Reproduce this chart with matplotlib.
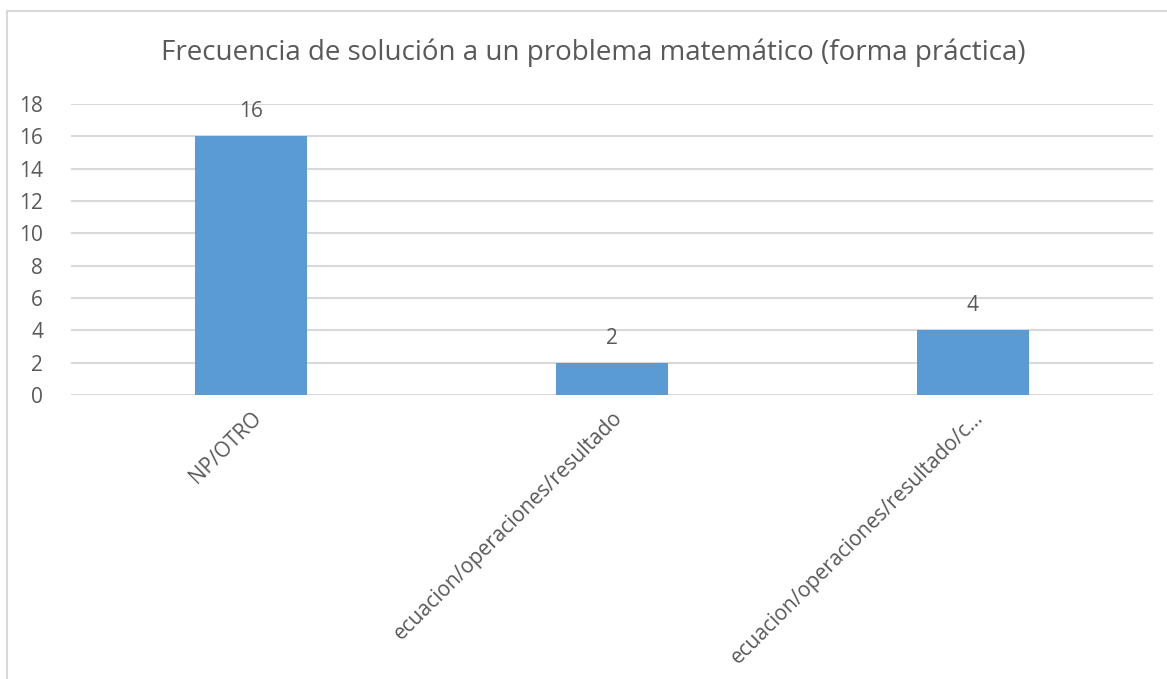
import matplotlib.pyplot as plt
from matplotlib.lines import Line2D

categories = ['NP/OTRO', 'ecuacion/operaciones/resultado', 'ecuacion/operaciones/resultado/c...']
counts = [16, 2, 4]
yticks = [0, 2, 4, 6, 8, 10, 12, 14, 16, 18]
title = 'Frecuencia de solución a un problema matemático (forma práctica)'

text_color = '#595959'
grid_color = '#d9d9d9'
bar_color = '#5b9bd5'

plt.rcParams['font.family'] = ['Open Sans', 'DejaVu Sans']

fig = plt.figure(figsize=(11.67, 6.79), dpi=100)
ax = fig.add_axes([71 / 1167, 1 - 395 / 679, (1153 - 71) / 1167, (395 - 104) / 679])

# chart frame (left and top edges only are visible)
fig.add_artist(Line2D([7 / 1167, 7 / 1167], [0, 1 - 11 / 679], color=grid_color, lw=1.5,
                      transform=fig.transFigure))
fig.add_artist(Line2D([7 / 1167, 1], [1 - 11 / 679, 1 - 11 / 679], color=grid_color, lw=1.5,
                      transform=fig.transFigure))

x = range(len(categories))
bars = ax.bar(x, counts, width=0.31, color=bar_color, zorder=3)
for b, v in zip(bars, counts):
    ax.annotate(str(v), (b.get_x() + b.get_width() / 2, v), xytext=(0, 10),
                textcoords='offset points', ha='center', va='bottom',
                fontsize=15, color=text_color)

ax.set_xlim(-0.5, len(categories) - 0.5)
ax.set_ylim(0, 18)
ax.set_yticks(yticks)
ax.yaxis.grid(True, color=grid_color, lw=1.5, zorder=0)
ax.set_xticks(list(x))
ax.set_xticklabels(categories, rotation=45, ha='right', va='top', rotation_mode='anchor',
                   fontsize=15, color=text_color)
ax.tick_params(axis='x', length=0, pad=9)
ax.tick_params(axis='y', length=0, pad=20, labelsize=15, labelcolor=text_color)
for s in ax.spines.values():
    s.set_visible(False)

fig.text(593 / 1167, 1 - 53 / 679, title, ha='center', va='center', fontsize=20, color=text_color)

fig.savefig('out.png', dpi=100)
